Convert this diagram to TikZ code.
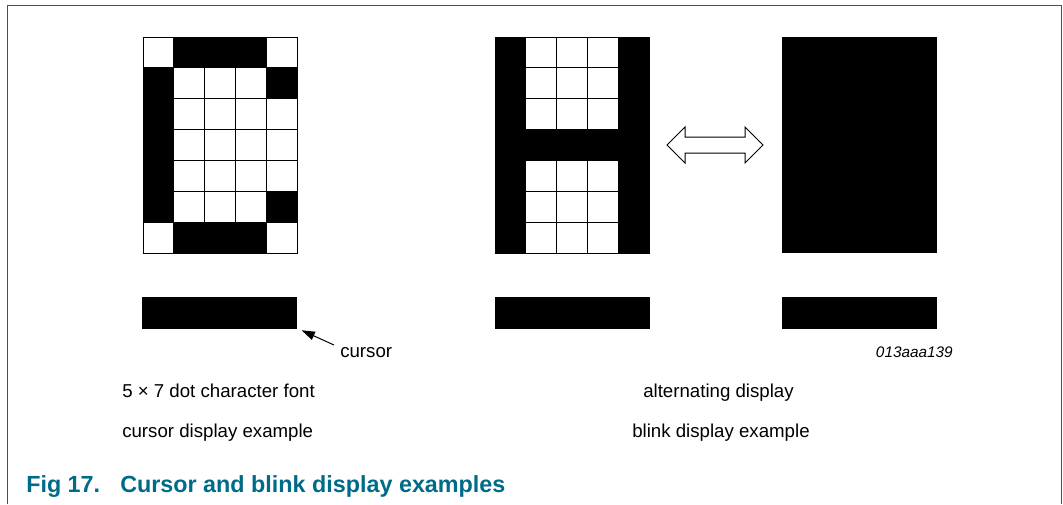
\documentclass[tikz,border=0pt]{standalone}
\usepackage{fontspec}
\setmainfont{Liberation Sans}
\usetikzlibrary{arrows.meta,calc}
\definecolor{nxpteal}{RGB}{0,106,137}
\begin{document}
\begin{tikzpicture}[x=0.75pt,y=-0.75pt,
  lbl/.style={font=\fontsize{14}{17}\selectfont, inner sep=0pt, anchor=base west},
  cellbox/.style={draw=black, fill=white, line width=0.75pt},
  barbox/.style={fill=black, draw=none, inner sep=0pt, minimum width=116.25pt, minimum height=24pt},
  captxt/.style={font=\fontsize{17.5}{21}\selectfont\bfseries, text=nxpteal, inner sep=0pt, anchor=base west}]
\useasboundingbox (0,0) rectangle (1063,504);
% frame
\draw[nxpteal, line width=1.1pt] (7.3,504) -- (7.3,5.3) -- (1061.3,5.3) -- (1061.3,504);
% left grid (cursor character)
\foreach \c in {0,...,4}{\foreach \r in {0,...,6}{
  \draw[cellbox] ({143+\c*30.8},{37+\r*30.86}) rectangle ++(30.8,30.86);}}
\foreach \c/\r in {1/0,2/0,3/0,0/1,4/1,0/2,0/3,0/4,0/5,4/5,1/6,2/6,3/6}{
  \fill[black] ({143+\c*30.8},{37+\r*30.86}) rectangle ++(30.8,30.86);}
% middle grid (H)
\foreach \c in {0,...,4}{\foreach \r in {0,...,6}{
  \draw[cellbox] ({495+\c*30.9},{37+\r*30.86}) rectangle ++(30.9,30.86);}}
\foreach \c/\r in {0/0,0/1,0/2,0/3,0/4,0/5,0/6,4/0,4/1,4/2,4/3,4/4,4/5,4/6,1/3,2/3,3/3}{
  \fill[black] ({495+\c*30.9},{37+\r*30.86}) rectangle ++(30.9,30.86);}
% right full block
\node[fill=black, inner sep=0pt, minimum width=116.5pt, minimum height=162pt] (blinkblock) at (859.6,145.3) {};
% double arrow
\draw[fill=white, line width=0.75pt, line join=miter] (667,145) -- (685,127) -- (685,137) -- (745,137) -- (745,127) -- (763,145) -- (745,163) -- (745,153) -- (685,153) -- (685,163) -- cycle;
% cursor bars
\node[barbox] (bar1) at (219.8,313) {};
\node[barbox] (bar2) at (572.5,313) {};
\node[barbox] (bar3) at (859.6,313) {};
% cursor label and pointer
\node[lbl] (cursorlbl) at (340,357) {cursor};
\coordinate (ptail) at (334,345);
\draw[line width=0.75pt, -{Triangle[length=10pt,width=6.5pt]}] (ptail) -- ($(bar1.south east)+(4,1)$);
% figure id
\node[font=\fontsize{11.5}{14}\selectfont\itshape, inner sep=0pt, anchor=base east] (figid) at (953,357) {013aaa139};
% descriptions
\node[lbl] (lfont) at (122,397) {5 × 7 dot character font};
\node[lbl] (lcur) at (122,437) {cursor display example};
\node[lbl] (lalt) at (643,397) {alternating display};
\node[lbl] (lblink) at (632,437) {blink display example};
% caption
\node[captxt] (capnum) at (26,492) {Fig 17.};
\node[captxt] (captitle) at (120,492) {Cursor and blink display examples};
\end{tikzpicture}
\end{document}
